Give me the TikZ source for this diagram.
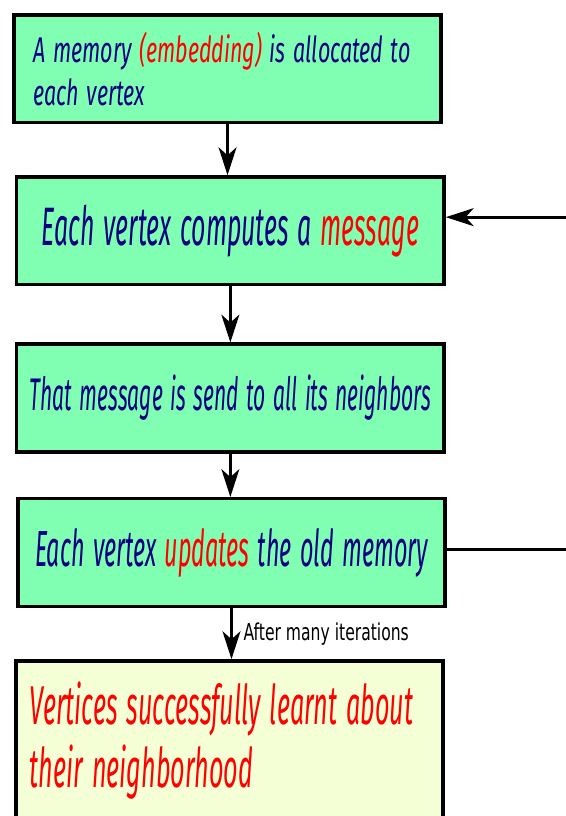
\documentclass[tikz,border=0pt]{standalone}
\usepackage{fontspec}
\usetikzlibrary{arrows.meta}

\newfontfamily\handfont{Fira Sans}[FakeStretch=0.46, WordSpace=1.4]
\newfontfamily\handwide{Fira Sans}[FakeStretch=0.6, WordSpace=1.4]
\newfontfamily\notefont{DejaVu Sans}[FakeStretch=0.67]

\definecolor{boxgreen}{RGB}{128,255,178}
\definecolor{boxyellow}{RGB}{245,255,214}
\definecolor{navy}{RGB}{0,0,128}
\definecolor{hired}{RGB}{255,0,0}

\tikzset{
  stage/.style={draw=black, line width=1.75pt, fill=boxgreen,
    minimum width=7.55cm, minimum height=1.9cm, inner sep=0pt,
    text=navy, font=\handfont\itshape},
  flow/.style={-{Stealth[length=14pt,width=9pt,inset=4pt]}, line width=1.5pt},
}

\begin{document}
\begin{tikzpicture}
      \useasboundingbox (0,0) rectangle (10,14.417);

      \node[stage, inner xsep=0.338cm, text width=6.87cm, align=flush left,
        font=\handwide\itshape\fontsize{18}{21.6}\selectfont]
        (mem) at (4.02,13.20) {A memory \textcolor{hired}{(embedding)} is allocated to\\each vertex}; % start
      \node[stage, font=\handfont\itshape\fontsize{27.2}{32}\selectfont]
        (msg) at (4.07,10.34) {Each vertex computes a \textcolor{hired}{message}}; % message
      \node[stage, font=\handfont\itshape\fontsize{23}{30}\selectfont]
        (send) at (4.07,7.385) {That message is send to all its neighbors}; % send
      \node[stage, font=\handfont\itshape\fontsize{25.5}{32}\selectfont]
        (upd) at (4.09,4.655) {Each vertex \textcolor{hired}{updates} the old memory}; % update
      \node[stage, fill=boxyellow, text=hired, minimum height=2.82cm,
        inner xsep=0.25cm, text width=7.05cm, align=flush left,
        font=\handfont\itshape\fontsize{27.5}{31.7}\selectfont]
        (res) at (4.055,1.33) {Vertices successfully learnt about\\their neighborhood}; % result

      \draw[flow] (mem.south) -- (mem.south |- msg.north);
      \draw[flow] (msg.south) -- (msg.south |- send.north);
      \draw[flow] (send.south) -- (send.south |- upd.north);
      \draw[flow] (upd.south) -- (upd.south |- res.north)
        node[midway, right, xshift=2pt, font=\notefont\fontsize{11.7}{14}\selectfont] (iter) {After many iterations};

      % loop back (runs off the page on the right)
      \draw[flow] ([yshift=0.06cm]upd.east) -- ++(2.6,0) |- ([yshift=0.24cm]msg.east);
\end{tikzpicture}
\end{document}
